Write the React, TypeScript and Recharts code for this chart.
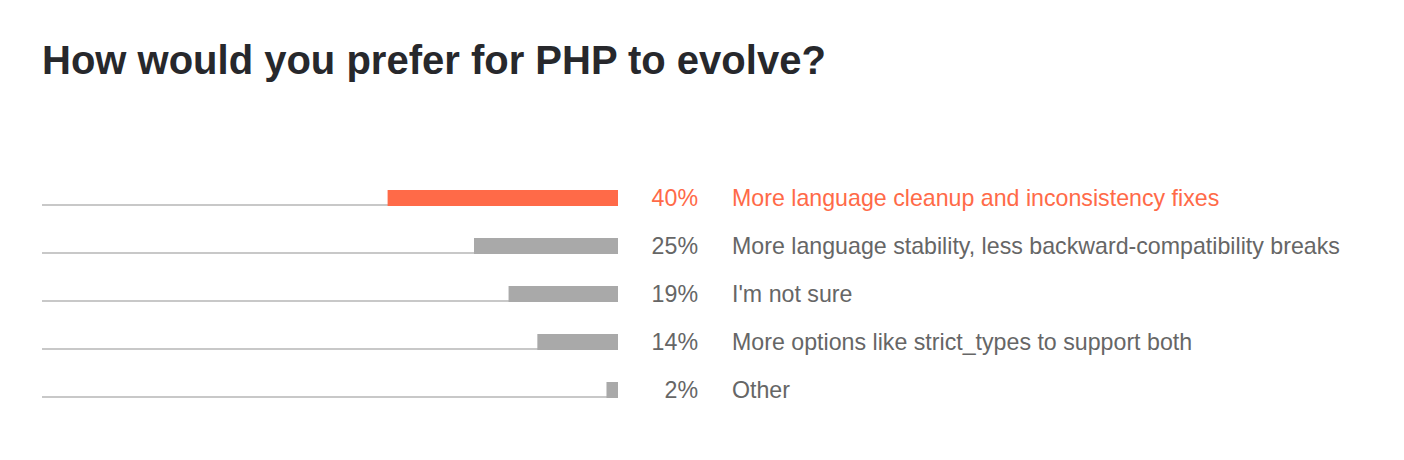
import { BarChart, Bar, XAxis, YAxis, LabelList } from "recharts"

const answers = [
  "More language cleanup and inconsistency fixes",
  "More language stability, less backward-compatibility breaks",
  "I'm not sure",
  "More options like strict_types to support both",
  "Other",
]
const shares = [40, 25, 19, 14, 2]

const ORANGE = "#ff6a48"
const GREY_BAR = "#a9a9a9"
const GREY_TEXT = "#666666"
const FONT = "'Liberation Sans', Arial, Helvetica, sans-serif"

const data = answers.map((answer, i) => ({ answer, share: shares[i] }))

// bars grow leftwards from the right edge of the plot, so x/width may come back negative
const BarShape = (props: any) => {
  const { x, y, width, height, index } = props
  const left = Math.min(x, x + width)
  return (
    <rect
      x={left}
      y={y}
      width={Math.abs(width)}
      height={height}
      fill={index === 0 ? ORANGE : GREY_BAR}
    />
  )
}

const BaseLine = (props: any) => {
  const { x, y, width, height } = props
  const left = Math.min(x, x + width)
  return <rect x={left} y={y + height - 2} width={Math.abs(width)} height={2} fill="#c8c8c8" />
}

const RowLabel = (props: any) => {
  const { x, y, width, height, index } = props
  const right = Math.max(x, x + width)
  const color = index === 0 ? ORANGE : GREY_TEXT
  return (
    <g fontFamily={FONT} fontSize={23.2} fill={color}>
      <text x={right + 80} y={y + height} textAnchor="end">
        {shares[index]}%
      </text>
      <text x={right + 114} y={y + height} textAnchor="start">
        {answers[index]}
      </text>
    </g>
  )
}

export default function App() {
  return (
    <div style={{ position: "relative", width: 1388, height: 444 }}>
      <div
        style={{
          position: "absolute",
          left: 34,
          top: 32,
          fontFamily: FONT,
          fontWeight: "bold",
          fontSize: 40,
          lineHeight: "40px",
          color: "#27282c",
          whiteSpace: "nowrap",
        }}
      >
        How would you prefer for PHP to evolve?
      </div>
      <BarChart
        width={1388}
        height={444}
        data={data}
        layout="vertical"
        margin={{ top: 166, right: 778, bottom: 38, left: 34 }}
        barSize={16}
      >
        <XAxis type="number" domain={[0, 100]} reversed hide />
        <YAxis type="category" dataKey="answer" hide />
        <Bar
          dataKey="share"
          isAnimationActive={false}
          shape={<BarShape />}
          background={<BaseLine />}
        >
          <LabelList dataKey="share" content={<RowLabel />} />
        </Bar>
      </BarChart>
    </div>
  )
}
